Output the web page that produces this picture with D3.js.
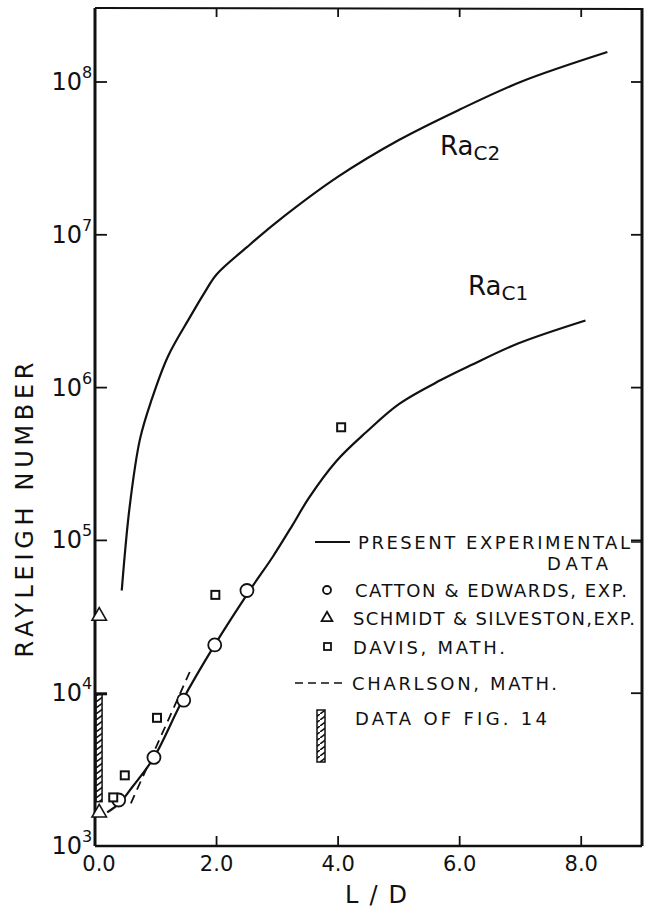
<!DOCTYPE html>
<html><head><meta charset="utf-8">
<script src="https://cdn.jsdelivr.net/npm/d3@7"></script>
<style>body{margin:0;background:#fff}svg text{font-family:"DejaVu Sans",sans-serif;fill:#111}</style>
</head><body><svg id="c" width="650" height="909"></svg>
<script>
// ---- data ----
const xTicks = [0, 2, 4, 6, 8];
const xTickLabels = ["0.0", "2.0", "4.0", "6.0", "8.0"];
const yTickExps = [3, 4, 5, 6, 7, 8];
const raC2 = [[0.44,47000],[0.57,166000],[0.74,460000],[0.93,830000],[1.2,1.6e6],[1.56,2.88e6],[1.8,4.17e6],[2.0,5.5e6],[2.5,8.3e6],[3.0,1.22e7],[4.0,2.4e7],[5.0,4.17e7],[6.0,6.6e7],[7.0,1.0e8],[8.43,1.57e8]];
const raC1 = [[0.2,1660],[0.4,1900],[0.62,2450],[0.97,3800],[1.44,9000],[1.97,20700],[2.59,50000],[2.92,77600],[3.25,126000],[3.52,190000],[3.97,330000],[4.46,510000],[5.0,780000],[5.69,1.12e6],[6.2,1.41e6],[6.97,1.95e6],[8.07,2.75e6]];
const cattonX = [0.39, 0.97, 1.46, 1.97, 2.5];
const cattonY = [2000, 3800, 9000, 20700, 47000];
const schmidtX = [0.02, 0.02];
const schmidtY = [32000, 1650];
const davisX = [0.3, 0.49, 1.02, 1.98, 4.05];
const davisY = [2080, 2900, 6900, 44000, 550000];
const charlson = [[0.59, 1900], [1.56, 13800]];
const fig14 = {x0: 0, x1: 0.1, yLow: 1950, yHigh: 9800};
const legendLabels = ["PRESENT EXPERIMENTAL", "CATTON & EDWARDS, EXP.", "SCHMIDT & SILVESTON,EXP.", "DAVIS, MATH.", "CHARLSON, MATH.", "DATA OF FIG. 14"];

// ---- chart ----
const svg = d3.select("#c");
const x = d3.scaleLinear().domain([0, 9]).range([95, 642]);
const y = d3.scaleLog().domain([1e3, 3.05e8]).range([846, 8]);
const X0 = x.range()[0], X1 = x.range()[1], Y0 = y.range()[0], Y1 = y.range()[1];

const defs = svg.append("defs");
const pat = defs.append("pattern").attr("id","hatch").attr("patternUnits","userSpaceOnUse")
  .attr("width",8).attr("height",6);
pat.append("path").attr("d","M0,6 L8,0").attr("stroke","#111").attr("stroke-width",1.6);

// frame
svg.append("line").attr("x1",X0).attr("x2",X0).attr("y1",Y1).attr("y2",Y0).attr("stroke","#111").attr("stroke-width",3);
svg.append("line").attr("x1",X0).attr("x2",X1).attr("y1",Y0).attr("y2",Y0).attr("stroke","#111").attr("stroke-width",2.5);
svg.append("line").attr("x1",X0).attr("x2",X1).attr("y1",Y1).attr("y2",Y1+1).attr("stroke","#111").attr("stroke-width",2);
svg.append("line").attr("x1",X1).attr("x2",X1).attr("y1",Y1).attr("y2",Y0).attr("stroke","#111").attr("stroke-width",3);

// ticks
const tv = yTickExps.map(e => Math.pow(10, e));
svg.selectAll(".lt").data(tv).join("line").attr("x1",X0).attr("x2",X0+12).attr("y1",d=>y(d)).attr("y2",d=>y(d)).attr("stroke","#111").attr("stroke-width",1.8);
svg.selectAll(".rt").data(tv).join("line").attr("x1",X1-11).attr("x2",X1).attr("y1",d=>y(d)).attr("y2",d=>y(d)).attr("stroke","#111").attr("stroke-width",1.8);
svg.selectAll(".bt").data(xTicks.slice(1)).join("line").attr("x1",d=>x(d)).attr("x2",d=>x(d)).attr("y1",Y0).attr("y2",Y0-10).attr("stroke","#111").attr("stroke-width",1.8);
svg.selectAll(".tt").data(xTicks.slice(1)).join("line").attr("x1",d=>x(d)).attr("x2",d=>x(d)).attr("y1",Y1).attr("y2",Y1+9).attr("stroke","#111").attr("stroke-width",1.8);

// y tick labels
const yl = svg.selectAll(".yl").data(yTickExps).join("g").attr("transform", e => `translate(82,${y(Math.pow(10,e))})`);
yl.append("text").attr("x",0).attr("y",8).attr("text-anchor","end").attr("font-size",24).text("10");
yl.append("text").attr("x",0).attr("y",-4).attr("font-size",16).text(e => e);

// x tick labels
svg.selectAll(".xl").data(xTicks).join("text").attr("x",(d,i)=> i===0 ? x(d)+4 : x(d)).attr("y",871).attr("text-anchor","middle").attr("font-size",21)
  .text((d,i)=>xTickLabels[i]);
svg.append("text").attr("x",376).attr("y",903).attr("text-anchor","middle").attr("font-size",24).attr("textLength",62).text("L/D");
svg.append("text").attr("transform","translate(33,510) rotate(-90)").attr("text-anchor","middle").attr("font-size",24).attr("textLength",295).text("RAYLEIGH NUMBER");

// curves
const line = d3.line().x(d=>x(d[0])).y(d=>y(d[1])).curve(d3.curveCatmullRom.alpha(0.5));
svg.append("path").datum(raC2).attr("d",line).attr("fill","none").attr("stroke","#111").attr("stroke-width",2.2);
svg.append("path").datum(raC1).attr("d",line).attr("fill","none").attr("stroke","#111").attr("stroke-width",2.2);
svg.append("path").datum(charlson).attr("d",d3.line().x(d=>x(d[0])).y(d=>y(d[1]))).attr("fill","none").attr("stroke","#111").attr("stroke-width",1.8).attr("stroke-dasharray","9,6");

// Fig 14 bar
svg.append("rect").attr("x",x(fig14.x0)+1).attr("y",y(fig14.yHigh)).attr("width",x(fig14.x1)-x(fig14.x0)).attr("height",y(fig14.yLow)-y(fig14.yHigh))
  .attr("fill","url(#hatch)").attr("stroke","#111").attr("stroke-width",1.5);
svg.append("line").attr("x1",x(fig14.x0)).attr("x2",x(fig14.x1)+6).attr("y1",y(fig14.yHigh)).attr("y2",y(fig14.yHigh)).attr("stroke","#111").attr("stroke-width",1.5);

// markers
svg.selectAll(".ce").data(cattonX).join("circle").attr("cx",d=>x(d)).attr("cy",(d,i)=>y(cattonY[i])).attr("r",6.5).attr("fill","#fff").attr("stroke","#111").attr("stroke-width",1.8);
svg.selectAll(".dv").data(davisX).join("rect").attr("x",d=>x(d)-4).attr("y",(d,i)=>y(davisY[i])-4).attr("width",8).attr("height",8).attr("fill","#fff").attr("stroke","#111").attr("stroke-width",2);
const tri = d3.symbol().type(d3.symbolTriangle).size(90);
svg.selectAll(".ss").data(schmidtX).join("path").attr("d",tri).attr("transform",(d,i)=>`translate(${x(d)+3},${y(schmidtY[i])})`).attr("fill","#fff").attr("stroke","#111").attr("stroke-width",1.6);

// curve labels
const l2 = svg.append("text").attr("x",440).attr("y",155).attr("font-size",26);
l2.append("tspan").text("Ra");
l2.append("tspan").attr("dy",5).attr("font-size",20).text("C2");
const l1 = svg.append("text").attr("x",468).attr("y",295).attr("font-size",26);
l1.append("tspan").text("Ra");
l1.append("tspan").attr("dy",5).attr("font-size",20).text("C1");

// legend
const lg = svg.append("g");
const rowsY = [542, 590, 618, 647, 683, 718];
const textX = [358, 355, 353, 353, 352, 355];
const textW = [272, 272, 282, 152, 205, 192];
lg.append("line").attr("x1",315).attr("x2",350).attr("y1",rowsY[0]).attr("y2",rowsY[0]).attr("stroke","#111").attr("stroke-width",1.8);
lg.append("line").attr("x1",631).attr("x2",X1).attr("y1",rowsY[0]).attr("y2",rowsY[0]).attr("stroke","#111").attr("stroke-width",1.5);
lg.append("circle").attr("cx",327).attr("cy",rowsY[1]).attr("r",4).attr("fill","#fff").attr("stroke","#111").attr("stroke-width",1.8);
lg.append("path").attr("d",d3.symbol().type(d3.symbolTriangle).size(50)).attr("transform",`translate(327,${rowsY[2]})`).attr("fill","#fff").attr("stroke","#111").attr("stroke-width",1.8);
lg.append("rect").attr("x",324).attr("y",rowsY[3]-4).attr("width",7).attr("height",7).attr("fill","#fff").attr("stroke","#111").attr("stroke-width",1.8);
lg.append("line").attr("x1",295).attr("x2",342).attr("y1",rowsY[4]).attr("y2",rowsY[4]).attr("stroke","#111").attr("stroke-width",1.6).attr("stroke-dasharray","8,5");
lg.append("rect").attr("x",317).attr("y",710).attr("width",8).attr("height",52).attr("fill","url(#hatch)").attr("stroke","#111").attr("stroke-width",1.5);
lg.selectAll(".lt2").data(legendLabels).join("text").attr("x",(d,i)=>textX[i]).attr("y",(d,i)=>rowsY[i]+7).attr("font-size",18).attr("textLength",(d,i)=>textW[i]).text(d=>d);
lg.append("text").attr("x",547).attr("y",570).attr("font-size",18).attr("textLength",61).text("DATA");
</script></body></html>
